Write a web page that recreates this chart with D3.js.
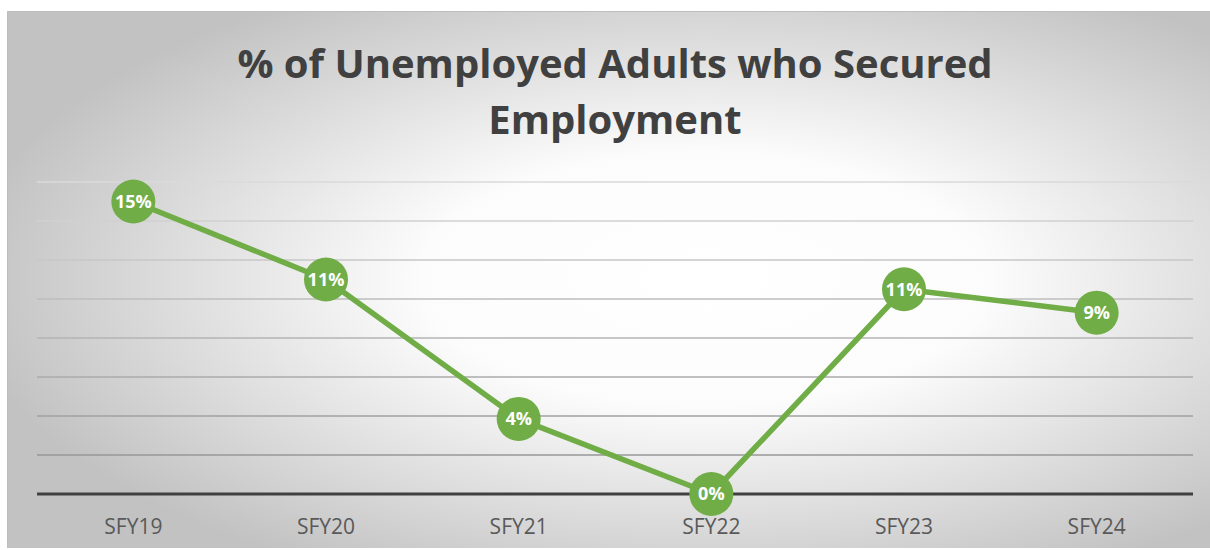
<!DOCTYPE html>
<html>
<head>
<meta charset="utf-8">
<script src="https://cdn.jsdelivr.net/npm/d3@7"></script>
<style>
  body { margin: 0; background: #fff; }
  svg { display: block; }
</style>
</head>
<body>
<div id="chart"></div>
<script>
const categories = ['SFY19', 'SFY20', 'SFY21', 'SFY22', 'SFY23', 'SFY24'];
const values = [15.0, 11.0, 3.85, 0, 10.5, 9.3];
const yTicks = [0, 2, 4, 6, 8, 10, 12, 14, 16];
const titleLines = ['% of Unemployed Adults who Secured', 'Employment'];

function drawChart(selector) {
  const width = 1210;
  const height = 550;
  const plot = { left: 37, right: 1193, top: 182, bottom: 494 };
  const green = '#70ad47';

  const svg = d3.select(selector).append('svg')
    .attr('width', width)
    .attr('height', height);

  const defs = svg.append('defs');

  // radial background, white in the middle fading to grey at the edges
  const bg = defs.append('radialGradient')
    .attr('id', 'bg-grad')
    .attr('cx', 0.58).attr('cy', 0.5).attr('r', 0.62);
  bg.append('stop').attr('offset', '0%').attr('stop-color', '#ffffff');
  bg.append('stop').attr('offset', '38%').attr('stop-color', '#fcfcfc');
  bg.append('stop').attr('offset', '100%').attr('stop-color', '#c2c2c2');

  // gridlines get darker toward the bottom
  const gridGrad = defs.append('linearGradient')
    .attr('id', 'grid-grad')
    .attr('gradientUnits', 'userSpaceOnUse')
    .attr('x1', 0).attr('y1', plot.top).attr('x2', 0).attr('y2', plot.bottom);
  gridGrad.append('stop').attr('offset', '0%').attr('stop-color', '#dadada');
  gridGrad.append('stop').attr('offset', '100%').attr('stop-color', '#8e8e8e');

  svg.append('rect')
    .attr('x', 7).attr('y', 11)
    .attr('width', width - 7).attr('height', 537)
    .attr('fill', 'url(#bg-grad)');
  svg.append('path')
    .attr('d', `M7.5,548 V11.5 H${width}`)
    .attr('fill', 'none')
    .attr('stroke', '#bdbdbd')
    .attr('stroke-width', 1);

  // title
  svg.append('text')
    .attr('x', 615)
    .attr('y', 78)
    .attr('text-anchor', 'middle')
    .attr('font-family', '"Open Sans", sans-serif')
    .attr('font-weight', 'bold')
    .attr('font-size', 40)
    .attr('fill', '#404040')
    .selectAll('tspan')
    .data(titleLines)
    .join('tspan')
    .attr('x', 615)
    .attr('dy', (d, i) => i === 0 ? 0 : 56)
    .text(d => d);

  const xScale = d3.scaleBand()
    .domain(categories)
    .range([plot.left, plot.right]);

  const yScale = d3.scaleLinear()
    .domain([0, 16])
    .range([plot.bottom, plot.top]);

  const cx = d => xScale(d) + xScale.bandwidth() / 2;

  // gridlines
  svg.append('g')
    .selectAll('line')
    .data(yTicks.filter(t => t > 0))
    .join('line')
    .attr('x1', plot.left)
    .attr('x2', plot.right)
    .attr('y1', d => yScale(d))
    .attr('y2', d => yScale(d))
    .attr('stroke', 'url(#grid-grad)')
    .attr('stroke-width', 1.5);

  // x axis
  const xAxis = svg.append('g')
    .attr('transform', `translate(0, ${plot.bottom})`)
    .call(d3.axisBottom(xScale).tickSize(0).tickPadding(25));
  xAxis.select('.domain')
    .attr('d', `M${plot.left},0H${plot.right}`)
    .attr('stroke', '#404040')
    .attr('stroke-width', 3);
  xAxis.selectAll('text')
    .attr('font-family', '"Open Sans", sans-serif')
    .attr('font-size', 21)
    .attr('fill', '#595959');

  // line
  const points = categories.map((c, i) => ({ cat: c, value: values[i] }));

  svg.append('path')
    .datum(points)
    .attr('fill', 'none')
    .attr('stroke', green)
    .attr('stroke-width', 5.5)
    .attr('stroke-linejoin', 'round')
    .attr('d', d3.line().x(d => cx(d.cat)).y(d => yScale(d.value)));

  const marker = svg.append('g')
    .selectAll('g')
    .data(points)
    .join('g')
    .attr('transform', d => `translate(${cx(d.cat)}, ${yScale(d.value)})`);

  marker.append('circle')
    .attr('r', 22)
    .attr('fill', green);

  marker.append('text')
    .text(d => Math.round(d.value) + '%')
    .attr('text-anchor', 'middle')
    .attr('dy', '0.36em')
    .attr('font-family', '"Open Sans", sans-serif')
    .attr('font-weight', 'bold')
    .attr('font-size', 18)
    .attr('fill', '#ffffff');
}

drawChart('#chart');
</script>
</body>
</html>
